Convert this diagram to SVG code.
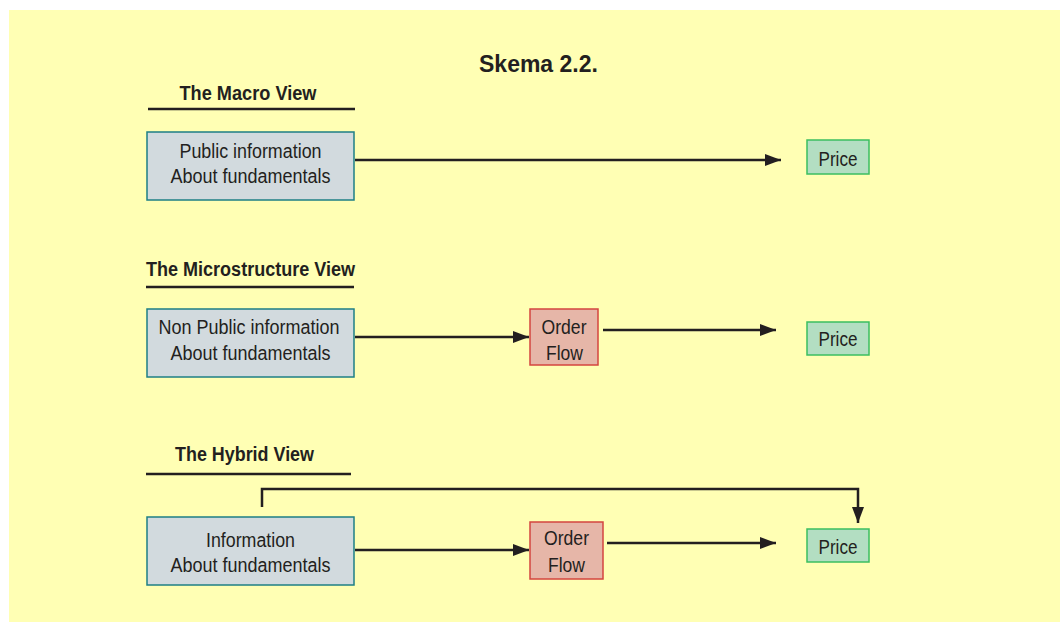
<svg xmlns="http://www.w3.org/2000/svg" width="1060" height="622" viewBox="0 0 1060 622">
<defs>
<style>
.bg{fill:#FFFFB4}
.info{fill:#D2DADE;stroke:#1E7F85;stroke-width:1.5}
.order{fill:#E6B6A8;stroke:#D4453F;stroke-width:1.5}
.price{fill:#B3DEC2;stroke:#3BBE60;stroke-width:1.5}
.t{font-family:"Liberation Sans",Arial,sans-serif;font-size:20px;fill:#231F20;text-anchor:middle}
.h{font-family:"Liberation Sans",Arial,sans-serif;font-size:20px;font-weight:bold;fill:#231F20;text-anchor:middle}
.title{font-family:"Liberation Sans",Arial,sans-serif;font-size:23px;font-weight:bold;fill:#231F20}
.rule{stroke:#231F20;stroke-width:2.5}
.conn{stroke:#231F20;stroke-width:2.5;fill:none;marker-end:url(#ah)}
</style>
<marker id="ah" markerUnits="userSpaceOnUse" markerWidth="16" markerHeight="12" refX="16" refY="6" orient="auto">
<path d="M0,0 L16,6 L0,12 z" fill="#231F20"/>
</marker>
</defs>
<rect x="9" y="10" width="1051" height="612" class="bg"/>
<text class="title" x="479" y="72">Skema 2.2.</text>

<g id="macro-heading">
<text class="h" x="248" y="100" textLength="137" lengthAdjust="spacingAndGlyphs">The Macro View</text>
<line class="rule" x1="148" y1="109" x2="355" y2="109"/>
</g>
<g id="micro-heading">
<text class="h" x="250.5" y="276" textLength="209" lengthAdjust="spacingAndGlyphs">The Microstructure View</text>
<line class="rule" x1="146" y1="287" x2="354" y2="287"/>
</g>
<g id="hybrid-heading">
<text class="h" x="244.5" y="461" textLength="139" lengthAdjust="spacingAndGlyphs">The Hybrid View</text>
<line class="rule" x1="146" y1="474" x2="351" y2="474"/>
</g>

<g id="connectors">
<line class="conn" x1="355" y1="160" x2="781" y2="160"/>
<line class="conn" x1="355" y1="337" x2="529" y2="337"/>
<line class="conn" x1="603" y1="330" x2="776" y2="330"/>
<line class="conn" x1="355" y1="550" x2="529" y2="550"/>
<line class="conn" x1="607" y1="543" x2="776" y2="543"/>
<polyline class="conn" points="262,507 262,489 858,489 858,523"/>
</g>

<g id="macro-info">
<rect class="info" x="147" y="132" width="207" height="68"/>
<text class="t" x="250.5" y="158" textLength="142" lengthAdjust="spacingAndGlyphs">Public information</text>
<text class="t" x="250.5" y="183" textLength="160" lengthAdjust="spacingAndGlyphs">About fundamentals</text>
</g>
<g id="macro-price">
<rect class="price" x="807" y="140" width="62" height="34"/>
<text class="t" x="838" y="166" textLength="39" lengthAdjust="spacingAndGlyphs">Price</text>
</g>

<g id="micro-info">
<rect class="info" x="147" y="309" width="207" height="68"/>
<text class="t" x="249" y="334" textLength="181" lengthAdjust="spacingAndGlyphs">Non Public information</text>
<text class="t" x="250.5" y="360" textLength="160" lengthAdjust="spacingAndGlyphs">About fundamentals</text>
</g>
<g id="micro-order">
<rect class="order" x="530" y="309" width="68" height="56"/>
<text class="t" x="564" y="334" textLength="45" lengthAdjust="spacingAndGlyphs">Order</text>
<text class="t" x="564.5" y="360" textLength="37" lengthAdjust="spacingAndGlyphs">Flow</text>
</g>
<g id="micro-price">
<rect class="price" x="807" y="322" width="62" height="33"/>
<text class="t" x="838" y="346" textLength="39" lengthAdjust="spacingAndGlyphs">Price</text>
</g>

<g id="hybrid-info">
<rect class="info" x="147" y="517" width="207" height="68"/>
<text class="t" x="250.5" y="547" textLength="89" lengthAdjust="spacingAndGlyphs">Information</text>
<text class="t" x="250.5" y="572" textLength="160" lengthAdjust="spacingAndGlyphs">About fundamentals</text>
</g>
<g id="hybrid-order">
<rect class="order" x="530" y="522" width="73" height="57"/>
<text class="t" x="566.5" y="545" textLength="45" lengthAdjust="spacingAndGlyphs">Order</text>
<text class="t" x="566.5" y="572" textLength="37" lengthAdjust="spacingAndGlyphs">Flow</text>
</g>
<g id="hybrid-price">
<rect class="price" x="807" y="529" width="62" height="33"/>
<text class="t" x="838" y="554" textLength="39" lengthAdjust="spacingAndGlyphs">Price</text>
</g>
</svg>
